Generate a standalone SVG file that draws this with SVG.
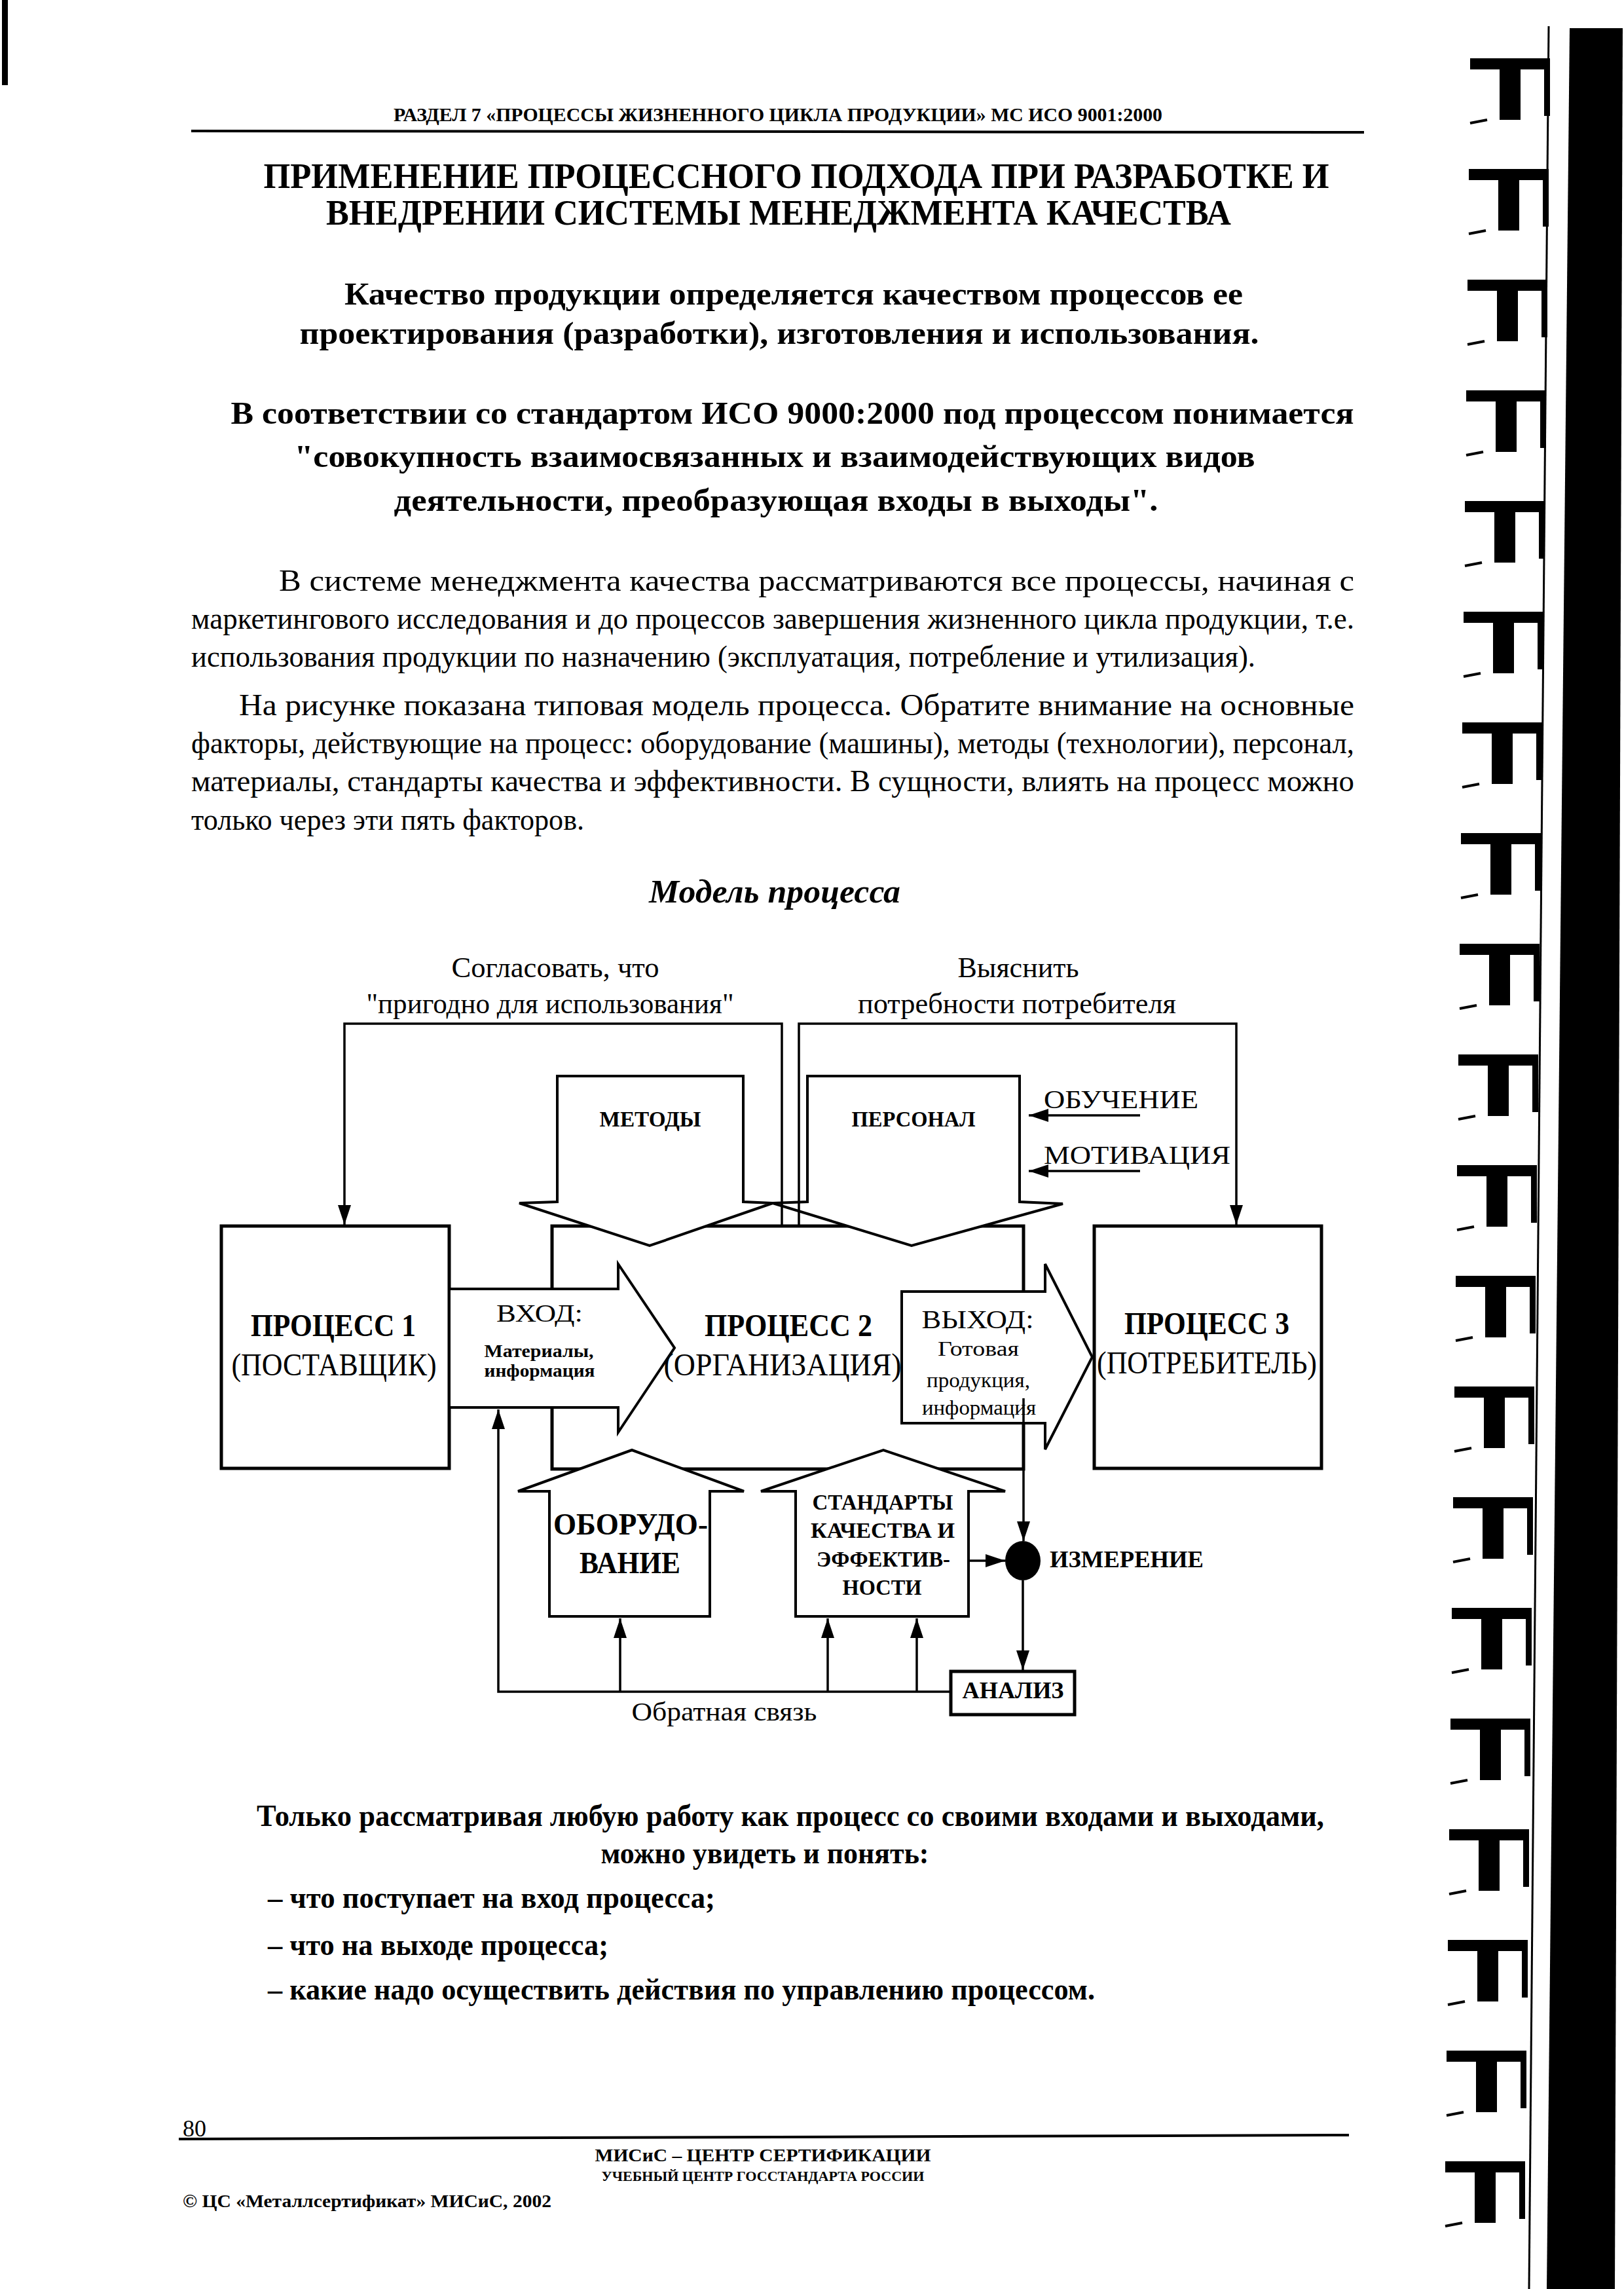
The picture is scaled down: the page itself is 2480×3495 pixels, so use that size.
<svg xmlns="http://www.w3.org/2000/svg" xmlns:xlink="http://www.w3.org/1999/xlink" width="2480" height="3495" viewBox="0 0 2480 3495">
<style>
.box{fill:#fff;stroke:#000;stroke-width:5}
.arr{fill:#fff;stroke:#000;stroke-width:4;stroke-linejoin:miter}
.ln{fill:none;stroke:#000;stroke-width:3.5}
.t{font-family:"Liberation Serif","Times New Roman",serif;fill:#000}
.b{font-weight:bold}
.i{font-style:italic}
.c{text-anchor:middle}
</style>
<defs>
<marker id="ah" markerUnits="userSpaceOnUse" markerWidth="32" markerHeight="22" refX="30" refY="10" orient="auto">
<path d="M0,0 L30,10 L0,20 z" fill="#000"/>
</marker>
<g id="tee">
<polygon points="0,0 122,0 122,17 77,17 77,94 45,94 45,17 0,17" fill="#000"/>
<rect x="113" y="0" width="9" height="88" fill="#000"/>
<path d="M0,99 L26,94" stroke="#000" stroke-width="4" fill="none"/>
</g>
</defs>
<rect width="2480" height="3495" fill="#fff"/>

<!-- scan edges / binding -->
<g id="binding">
<rect x="3" y="0" width="9" height="130" fill="#000"/>
<polygon points="2397,43 2478,43 2466,3495 2362,3495" fill="#000"/>
<path d="M2365,40 L2335,3495" stroke="#000" stroke-width="3" fill="none"/>
<use xlink:href="#tee" transform="translate(2245,89)"/>
<use xlink:href="#tee" transform="translate(2243,258)"/>
<use xlink:href="#tee" transform="translate(2241,427)"/>
<use xlink:href="#tee" transform="translate(2239,596)"/>
<use xlink:href="#tee" transform="translate(2237,765)"/>
<use xlink:href="#tee" transform="translate(2235,934)"/>
<use xlink:href="#tee" transform="translate(2233,1103)"/>
<use xlink:href="#tee" transform="translate(2231,1272)"/>
<use xlink:href="#tee" transform="translate(2229,1441)"/>
<use xlink:href="#tee" transform="translate(2227,1610)"/>
<use xlink:href="#tee" transform="translate(2225,1779)"/>
<use xlink:href="#tee" transform="translate(2223,1948)"/>
<use xlink:href="#tee" transform="translate(2221,2117)"/>
<use xlink:href="#tee" transform="translate(2219,2286)"/>
<use xlink:href="#tee" transform="translate(2217,2455)"/>
<use xlink:href="#tee" transform="translate(2215,2624)"/>
<use xlink:href="#tee" transform="translate(2213,2793)"/>
<use xlink:href="#tee" transform="translate(2211,2962)"/>
<use xlink:href="#tee" transform="translate(2209,3131)"/>
<use xlink:href="#tee" transform="translate(2207,3300)"/>
</g>

<!-- page header -->
<g id="header">
<text class="t b c" x="1188" y="185" font-size="29" textLength="1174" lengthAdjust="spacingAndGlyphs">РАЗДЕЛ 7 «ПРОЦЕССЫ ЖИЗНЕННОГО ЦИКЛА ПРОДУКЦИИ» МС ИСО 9001:2000</text>
<path d="M292,200 L2083,202" stroke="#000" stroke-width="4"/>
</g>

<g id="texts-top">
<text class="t b c" x="1216" y="287" font-size="54" textLength="1627" lengthAdjust="spacingAndGlyphs">ПРИМЕНЕНИЕ ПРОЦЕССНОГО ПОДХОДА ПРИ РАЗРАБОТКЕ И</text>
<text class="t b c" x="1189" y="343" font-size="54" textLength="1382" lengthAdjust="spacingAndGlyphs">ВНЕДРЕНИИ СИСТЕМЫ МЕНЕДЖМЕНТА КАЧЕСТВА</text>
<text class="t b c" x="1212" y="465" font-size="48" textLength="1372" lengthAdjust="spacingAndGlyphs">Качество продукции определяется качеством процессов ее</text>
<text class="t b c" x="1190" y="525" font-size="48" textLength="1465" lengthAdjust="spacingAndGlyphs">проектирования (разработки), изготовления и использования.</text>
<text class="t b c" x="1210" y="647" font-size="48" textLength="1715" lengthAdjust="spacingAndGlyphs">В соответствии со стандартом ИСО 9000:2000 под процессом понимается</text>
<text class="t b c" x="1183" y="713" font-size="48" textLength="1467" lengthAdjust="spacingAndGlyphs">"совокупность взаимосвязанных и взаимодействующих видов</text>
<text class="t b c" x="1185" y="780" font-size="48" textLength="1167" lengthAdjust="spacingAndGlyphs">деятельности, преобразующая входы в выходы".</text>
<text class="t" x="426" y="902" font-size="46" textLength="1642" lengthAdjust="spacingAndGlyphs">В системе менеджмента качества рассматриваются все процессы, начиная с</text>
<text class="t" x="292" y="960" font-size="46" textLength="1776" lengthAdjust="spacingAndGlyphs">маркетингового исследования и до процессов завершения жизненного цикла продукции, т.е.</text>
<text class="t" x="292" y="1018" font-size="46" textLength="1625" lengthAdjust="spacingAndGlyphs">использования продукции по назначению (эксплуатация, потребление и утилизация).</text>
<text class="t" x="365" y="1092" font-size="46" textLength="1703" lengthAdjust="spacingAndGlyphs">На рисунке показана типовая модель процесса. Обратите внимание на основные</text>
<text class="t" x="292" y="1150" font-size="46" textLength="1776" lengthAdjust="spacingAndGlyphs">факторы, действующие на процесс: оборудование (машины), методы (технологии), персонал,</text>
<text class="t" x="292" y="1208" font-size="46" textLength="1776" lengthAdjust="spacingAndGlyphs">материалы, стандарты качества и эффективности. В сущности, влиять на процесс можно</text>
<text class="t" x="292" y="1267" font-size="46" textLength="600" lengthAdjust="spacingAndGlyphs">только через эти пять факторов.</text>
<text class="t b i c" x="1183" y="1378" font-size="50" textLength="384" lengthAdjust="spacingAndGlyphs">Модель процесса</text>
</g>

<!-- diagram nodes -->
<g id="process1"><rect class="box" x="338" y="1872" width="348" height="370"/></g>
<g id="process2"><rect class="box" x="843" y="1872" width="720" height="371"/></g>
<g id="process3"><rect class="box" x="1671" y="1872" width="347" height="370"/></g>
<g id="metody"><polygon class="arr" points="851,1643 1135,1643 1135,1835 1180,1837 992,1902 793,1837 851,1835"/></g>
<g id="personal"><polygon class="arr" points="1233,1643 1557,1643 1557,1835 1623,1838 1392,1902 1180,1837 1233,1835"/></g>
<g id="vhod"><polygon class="arr" points="686,1968 944,1968 944,1930 1030,2058 944,2187 944,2149 686,2149"/></g>
<g id="vyhod"><polygon class="arr" points="1377,1972 1596,1972 1596,1930 1668,2072 1596,2213 1596,2173 1377,2173"/></g>
<g id="oborudovanie"><polygon class="arr" points="839,2468 1084,2468 1084,2277 1136,2277 965,2214 791,2277 839,2277"/></g>
<g id="standarty"><polygon class="arr" points="1215,2468 1479,2468 1479,2277 1535,2277 1349,2214 1162,2277 1215,2277"/></g>
<g id="analiz"><rect class="box" x="1452" y="2552" width="189" height="66" stroke-width="4"/></g>
<g id="izmerenie"><ellipse cx="1562" cy="2383" rx="27" ry="30" fill="#000"/></g>

<!-- connectors -->
<g id="connectors">
<path class="ln" d="M1194,1872 V1563 H526 V1870" marker-end="url(#ah)"/>
<path class="ln" d="M1220,1872 V1563 H1888 V1870" marker-end="url(#ah)"/>
<path class="ln" d="M1741,1703 H1571" stroke-width="4.5" marker-end="url(#ah)"/>
<path class="ln" d="M1741,1788 H1571" stroke-width="4.5" marker-end="url(#ah)"/>
<path class="ln" d="M1452,2583 H761 V2152" marker-end="url(#ah)"/>
<path class="ln" d="M947,2583 V2471" marker-end="url(#ah)"/>
<path class="ln" d="M1264,2583 V2471" marker-end="url(#ah)"/>
<path class="ln" d="M1400,2583 V2471" marker-end="url(#ah)"/>
<path class="ln" d="M1563,2135 V2353" marker-end="url(#ah)"/>
<path class="ln" d="M1479,2383 H1535" stroke-width="4.5" marker-end="url(#ah)"/>
<path class="ln" d="M1562,2413 V2550" marker-end="url(#ah)"/>
</g>

<!-- diagram labels -->
<g id="labels">
<text class="t c" x="848" y="1492" font-size="44" textLength="317" lengthAdjust="spacingAndGlyphs">Согласовать, что</text>
<text class="t c" x="840" y="1547" font-size="44" textLength="561" lengthAdjust="spacingAndGlyphs">"пригодно для использования"</text>
<text class="t c" x="1555" y="1492" font-size="44" textLength="185" lengthAdjust="spacingAndGlyphs">Выяснить</text>
<text class="t c" x="1553" y="1547" font-size="44" textLength="486" lengthAdjust="spacingAndGlyphs">потребности потребителя</text>
<text class="t b c" x="993" y="1720" font-size="34" textLength="155" lengthAdjust="spacingAndGlyphs">МЕТОДЫ</text>
<text class="t b c" x="1395" y="1720" font-size="34" textLength="189" lengthAdjust="spacingAndGlyphs">ПЕРСОНАЛ</text>
<text class="t" x="1594" y="1692" font-size="40" textLength="236" lengthAdjust="spacingAndGlyphs">ОБУЧЕНИЕ</text>
<text class="t" x="1594" y="1777" font-size="40" textLength="285" lengthAdjust="spacingAndGlyphs">МОТИВАЦИЯ</text>
<text class="t b c" x="509" y="2040" font-size="48" textLength="252" lengthAdjust="spacingAndGlyphs">ПРОЦЕСС 1</text>
<text class="t c" x="510" y="2100" font-size="48" textLength="313" lengthAdjust="spacingAndGlyphs">(ПОСТАВЩИК)</text>
<text class="t c" x="824" y="2018" font-size="38" textLength="132" lengthAdjust="spacingAndGlyphs">ВХОД:</text>
<text class="t b c" x="823" y="2072" font-size="28" textLength="167" lengthAdjust="spacingAndGlyphs">Материалы,</text>
<text class="t b c" x="824" y="2102" font-size="28" textLength="169" lengthAdjust="spacingAndGlyphs">информация</text>
<text class="t b c" x="1204" y="2040" font-size="48" textLength="256" lengthAdjust="spacingAndGlyphs">ПРОЦЕСС 2</text>
<text class="t c" x="1195" y="2100" font-size="48" textLength="363" lengthAdjust="spacingAndGlyphs">(ОРГАНИЗАЦИЯ)</text>
<text class="t c" x="1493" y="2028" font-size="40" textLength="171" lengthAdjust="spacingAndGlyphs">ВЫХОД:</text>
<text class="t c" x="1494" y="2070" font-size="32" textLength="124" lengthAdjust="spacingAndGlyphs">Готовая</text>
<text class="t c" x="1494" y="2118" font-size="32" textLength="158" lengthAdjust="spacingAndGlyphs">продукция,</text>
<text class="t c" x="1495" y="2160" font-size="32" textLength="174" lengthAdjust="spacingAndGlyphs">информация</text>
<text class="t b c" x="1843" y="2037" font-size="48" textLength="252" lengthAdjust="spacingAndGlyphs">ПРОЦЕСС 3</text>
<text class="t c" x="1843" y="2097" font-size="48" textLength="336" lengthAdjust="spacingAndGlyphs">(ПОТРЕБИТЕЛЬ)</text>
<text class="t b c" x="963" y="2343" font-size="46" textLength="236" lengthAdjust="spacingAndGlyphs">ОБОРУДО-</text>
<text class="t b c" x="962" y="2402" font-size="46" textLength="154" lengthAdjust="spacingAndGlyphs">ВАНИЕ</text>
<text class="t b c" x="1348" y="2305" font-size="34" textLength="215" lengthAdjust="spacingAndGlyphs">СТАНДАРТЫ</text>
<text class="t b c" x="1348" y="2348" font-size="34" textLength="220" lengthAdjust="spacingAndGlyphs">КАЧЕСТВА И</text>
<text class="t b c" x="1349" y="2392" font-size="34" textLength="204" lengthAdjust="spacingAndGlyphs">ЭФФЕКТИВ-</text>
<text class="t b c" x="1347" y="2435" font-size="34" textLength="121" lengthAdjust="spacingAndGlyphs">НОСТИ</text>
<text class="t b" x="1603" y="2393" font-size="36" textLength="235" lengthAdjust="spacingAndGlyphs">ИЗМЕРЕНИЕ</text>
<text class="t b c" x="1547" y="2593" font-size="36" textLength="155" lengthAdjust="spacingAndGlyphs">АНАЛИЗ</text>
<text class="t c" x="1106" y="2627" font-size="40" textLength="283" lengthAdjust="spacingAndGlyphs">Обратная связь</text>
</g>

<g id="texts-bottom">
<text class="t b c" x="1207" y="2788" font-size="46" textLength="1630" lengthAdjust="spacingAndGlyphs">Только рассматривая любую работу как процесс со своими входами и выходами,</text>
<text class="t b c" x="1168" y="2845" font-size="46" textLength="501" lengthAdjust="spacingAndGlyphs">можно увидеть и понять:</text>
<text class="t b" x="409" y="2913" font-size="46" textLength="683" lengthAdjust="spacingAndGlyphs">– что поступает на вход процесса;</text>
<text class="t b" x="409" y="2985" font-size="46" textLength="520" lengthAdjust="spacingAndGlyphs">– что на выходе процесса;</text>
<text class="t b" x="409" y="3053" font-size="46" textLength="1263" lengthAdjust="spacingAndGlyphs">– какие надо осуществить действия по управлению процессом.</text>
</g>

<g id="footer">
<text class="t" x="279" y="3262" font-size="36" textLength="36" lengthAdjust="spacingAndGlyphs">80</text>
<path d="M273,3266 L2060,3260" stroke="#000" stroke-width="4"/>
<text class="t b c" x="1165" y="3300" font-size="28" textLength="513" lengthAdjust="spacingAndGlyphs">МИСиС – ЦЕНТР СЕРТИФИКАЦИИ</text>
<text class="t b c" x="1165" y="3330" font-size="21" textLength="493" lengthAdjust="spacingAndGlyphs">УЧЕБНЫЙ ЦЕНТР ГОССТАНДАРТА РОССИИ</text>
<text class="t b" x="279" y="3370" font-size="28" textLength="563" lengthAdjust="spacingAndGlyphs">© ЦС «Металлсертификат» МИСиС, 2002</text>
</g>
</svg>
